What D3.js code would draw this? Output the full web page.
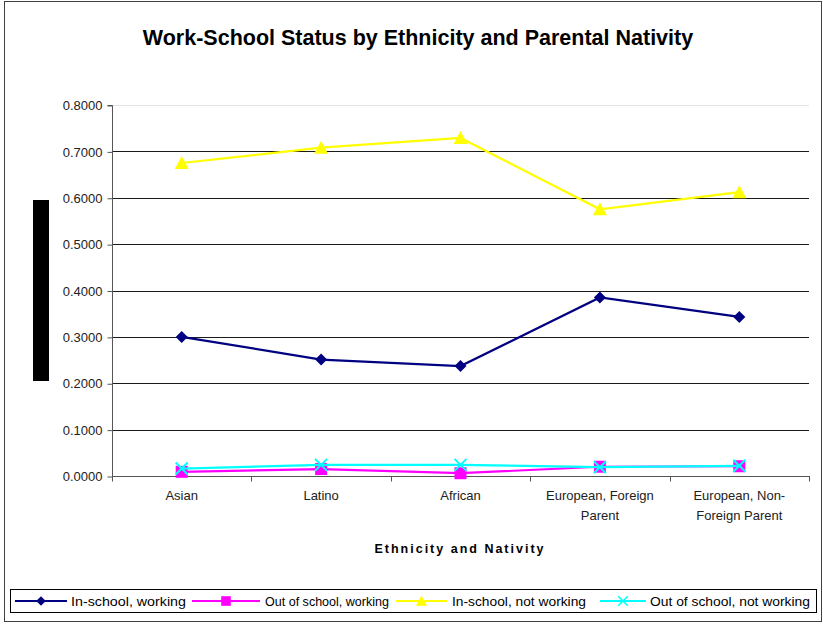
<!DOCTYPE html>
<html>
<head>
<meta charset="utf-8">
<script src="https://cdn.jsdelivr.net/npm/d3@7"></script>
<style>
  html, body { margin: 0; padding: 0; background: #fff; }
  svg { display: block; font-family: "Liberation Sans", Arial, sans-serif; }
</style>
</head>
<body>
<svg id="chart" width="823" height="625"></svg>
<script>
// Categories along the x axis (multi-line labels split on "\n")
const categories = ["Asian", "Latino", "African", "European, Foreign\nParent", "European, Non-\nForeign Parent"];

// Shares per work-school status
const inSchoolWorking     = [0.300, 0.251, 0.237, 0.385, 0.343];
const outSchoolWorking    = [0.009, 0.015, 0.006, 0.020, 0.021];
const inSchoolNotWorking  = [0.675, 0.708, 0.729, 0.575, 0.612];
const outSchoolNotWorking = [0.016, 0.024, 0.024, 0.019, 0.022];

const seriesNames = ["In-school, working", "Out of school, working", "In-school, not working", "Out of school, not working"];
const yTicks = [0, 0.1, 0.2, 0.3, 0.4, 0.5, 0.6, 0.7, 0.8];

const series = [
  { name: seriesNames[0], values: inSchoolWorking,     color: "#000080", marker: "diamond" },
  { name: seriesNames[1], values: outSchoolWorking,    color: "#FF00FF", marker: "square" },
  { name: seriesNames[2], values: inSchoolNotWorking,  color: "#FFFF00", marker: "triangle" },
  { name: seriesNames[3], values: outSchoolNotWorking, color: "#00FFFF", marker: "cross" }
];

const svg = d3.select("#chart");
const plot = { left: 112, right: 809, top: 105, bottom: 476 };

// Outer chart frame
svg.append("rect").attr("x", 4.5).attr("y", 1.5).attr("width", 817).attr("height", 620)
  .attr("fill", "#fff").attr("stroke", "#404040").attr("stroke-width", 1);

// Title
svg.append("text").attr("x", 418).attr("y", 45).attr("text-anchor", "middle")
  .attr("font-size", 21.5).attr("font-weight", "bold").attr("fill", "#000")
  .text("Work-School Status by Ethnicity and Parental Nativity");

const x = d3.scaleBand().domain(d3.range(categories.length)).range([plot.left, plot.right]);
const y = d3.scaleLinear().domain([0, 0.8]).range([plot.bottom, plot.top]);

// Horizontal gridlines
svg.append("g").selectAll("line").data(yTicks.filter(t => t > 0)).join("line")
  .attr("x1", plot.left).attr("x2", plot.right)
  .attr("y1", d => Math.round(y(d)) + 0.5).attr("y2", d => Math.round(y(d)) + 0.5)
  .attr("stroke", d => d >= 0.8 ? "#e4e4e4" : "#1a1a1a").attr("stroke-width", 1);

// Y axis
const yAxis = d3.axisLeft(y).tickValues(yTicks).tickFormat(d3.format(".4f")).tickSize(5).tickPadding(5);
const gy = svg.append("g").attr("transform", `translate(${plot.left + 0.5},0.5)`).call(yAxis);
gy.select(".domain").attr("stroke", "#555").attr("d", `M-5,${plot.top}H0V${plot.bottom}`);
gy.selectAll(".tick line").attr("stroke", "#555");
gy.selectAll(".tick text").attr("font-size", 13).attr("fill", "#222")
  .attr("font-family", "'Liberation Sans', Arial, sans-serif");

// X axis with ticks between categories
const xAxisG = svg.append("g").attr("transform", `translate(0,${plot.bottom + 0.5})`);
xAxisG.append("line").attr("x1", plot.left).attr("x2", plot.right + 1).attr("stroke", "#555");
const boundaries = d3.range(categories.length + 1).map(i => i < categories.length ? x(i) : x(i - 1) + x.bandwidth());
xAxisG.selectAll("line.tk").data(boundaries).join("line").attr("class", "tk")
  .attr("x1", d => Math.round(d) + 0.5).attr("x2", d => Math.round(d) + 0.5)
  .attr("y1", 0).attr("y2", 5).attr("stroke", "#555");
const xl = xAxisG.selectAll("text").data(categories).join("text")
  .attr("text-anchor", "middle").attr("font-size", 13).attr("fill", "#222")
  .attr("transform", (d, i) => `translate(${x(i) + x.bandwidth() / 2},0)`);
xl.selectAll("tspan").data(d => d.split("\n")).join("tspan")
  .attr("x", 0).attr("y", (d, i) => 23 + i * 20).text(d => d);

// X axis title
svg.append("text").attr("x", 460).attr("y", 553).attr("text-anchor", "middle")
  .attr("font-size", 12.5).attr("font-weight", "bold").attr("letter-spacing", 2)
  .text("Ethnicity and Nativity");

// Y axis title block
svg.append("rect").attr("x", 33).attr("y", 200).attr("width", 16).attr("height", 181).attr("fill", "#000");

// Marker drawing
function drawMarker(sel, type, color) {
  if (type === "diamond") {
    sel.append("path").attr("d", "M0,-6L6,0L0,6L-6,0Z").attr("fill", color);
  } else if (type === "square") {
    sel.append("rect").attr("x", -6).attr("y", -6).attr("width", 12).attr("height", 12).attr("fill", color);
  } else if (type === "triangle") {
    sel.append("path").attr("d", "M0,-7L7,6L-7,6Z").attr("fill", color);
  } else if (type === "cross") {
    sel.append("path").attr("d", "M-6,-6L6,6M-6,6L6,-6").attr("stroke", color).attr("stroke-width", 2).attr("fill", "none");
  }
}

const line = d3.line().x((d, i) => x(i) + x.bandwidth() / 2).y(d => y(d));
const gSeries = svg.append("g");
series.forEach(s => {
  const g = gSeries.append("g");
  g.append("path").attr("d", line(s.values)).attr("fill", "none")
    .attr("stroke", s.color).attr("stroke-width", 2.2);
  s.values.forEach((v, i) => {
    const m = g.append("g").attr("transform", `translate(${x(i) + x.bandwidth() / 2},${y(v)})`);
    drawMarker(m, s.marker, s.color);
  });
});

// Legend
svg.append("rect").attr("x", 10.5).attr("y", 589.5).attr("width", 806).attr("height", 23)
  .attr("fill", "#fff").attr("stroke", "#000").attr("stroke-width", 1);
const legendPos = [
  { x1: 15, x2: 67, tx: 71, w: 115 },
  { x1: 192, x2: 260, tx: 265, w: 124 },
  { x1: 396, x2: 447, tx: 452, w: 134 },
  { x1: 600, x2: 646, tx: 650, w: 160 }
];
series.forEach((s, i) => {
  const p = legendPos[i];
  const g = svg.append("g").attr("transform", "translate(0,601)");
  g.append("line").attr("x1", p.x1).attr("x2", p.x2).attr("stroke", s.color).attr("stroke-width", 2);
  const m = g.append("g").attr("transform", `translate(${(p.x1 + p.x2) / 2},0) scale(0.8)`);
  drawMarker(m, s.marker, s.color);
  g.append("text").attr("x", p.tx).attr("y", 5).attr("font-size", 13.5).attr("fill", "#000")
    .attr("textLength", p.w).attr("lengthAdjust", "spacingAndGlyphs").text(s.name);
});
</script>
</body>
</html>
